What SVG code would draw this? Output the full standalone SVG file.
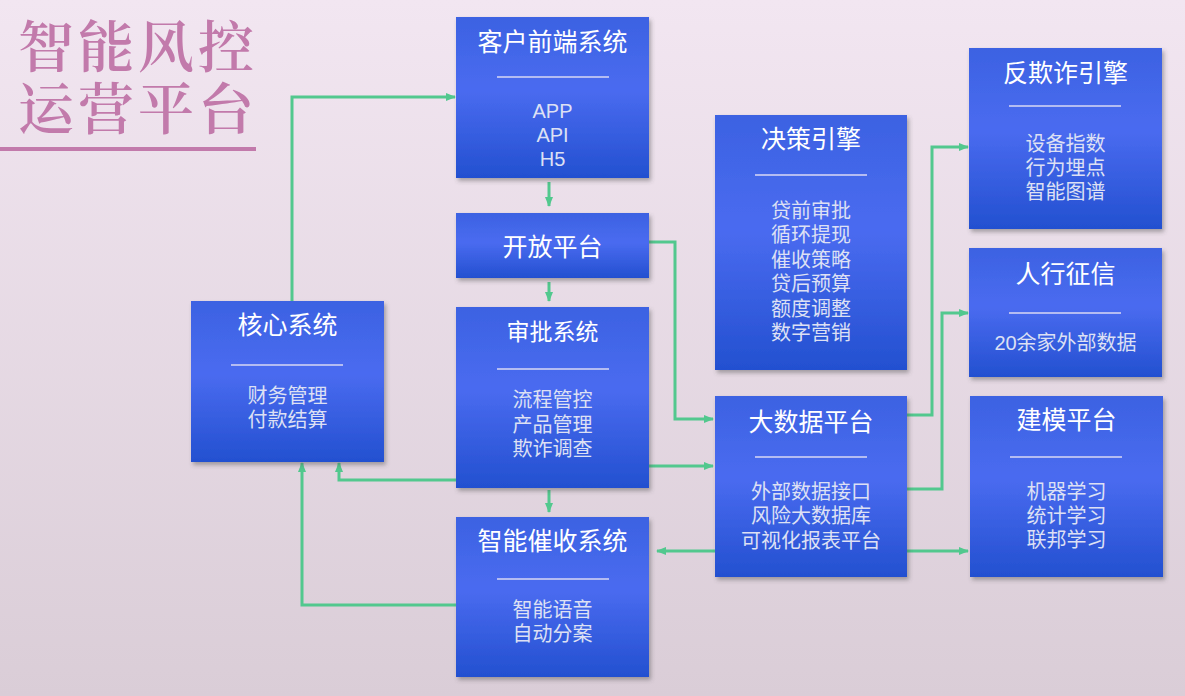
<svg xmlns="http://www.w3.org/2000/svg" width="1185" height="696" viewBox="0 0 1185 696">
<defs>
<linearGradient id="bg" x1="0" y1="0" x2="0" y2="1">
<stop offset="0" stop-color="#f2e6f1"/>
<stop offset="1" stop-color="#dacdd7"/>
</linearGradient>
<linearGradient id="box" x1="0" y1="0" x2="0" y2="1">
<stop offset="0" stop-color="#3c62e2"/>
<stop offset="0.45" stop-color="#4a6bf0"/>
<stop offset="1" stop-color="#2350d0"/>
</linearGradient>
<filter id="sh" x="-10%" y="-10%" width="130%" height="130%">
<feDropShadow dx="2" dy="3" stdDeviation="2" flood-color="#505050" flood-opacity="0.45"/>
</filter>
<marker id="ar" viewBox="0 0 10 10" refX="9" refY="5" markerWidth="10" markerHeight="10" markerUnits="userSpaceOnUse" orient="auto">
<path d="M0,1 L10,5 L0,9 Z" fill="#52c88e"/>
</marker>
<style>
.b{fill:url(#box);filter:url(#sh)}
.t{font-family:"Liberation Sans","Noto Sans CJK SC",sans-serif;font-size:25px;fill:#ffffff;text-anchor:middle}
.i{font-family:"Liberation Sans","Noto Sans CJK SC",sans-serif;font-size:20px;fill:#dde0f4;text-anchor:middle}
.s{stroke:#b4bcf2;stroke-width:2}
.c{fill:none;stroke:#52c88e;stroke-width:3;marker-end:url(#ar)}
.h{font-family:"Noto Serif CJK SC","Noto Sans CJK SC",serif;font-size:56px;letter-spacing:4px;font-weight:600;fill:#c27aab}
</style>
</defs>
<rect width="1185" height="696" fill="url(#bg)"/>
<g id="title">
<text class="h"><tspan x="18" y="67">智能风控</tspan><tspan x="18" y="129">运营平台</tspan></text>
<rect x="0" y="147" width="256" height="4" fill="#c27aab"/>
</g>
<g id="connectors">
<path class="c" d="M292,301 V97 H455"/>
<path class="c" d="M549,182 V206"/>
<path class="c" d="M549,282 V301"/>
<path class="c" d="M649,242 H675 V419 H713"/>
<path class="c" d="M649,466 H713"/>
<path class="c" d="M549,490 V512"/>
<path class="c" d="M456,480 H339 V463"/>
<path class="c" d="M456,605 H302 V463"/>
<path class="c" d="M907,415 H932 V147 H968"/>
<path class="c" d="M907,489 H942 V313 H968"/>
<path class="c" d="M907,551 H968"/>
<path class="c" d="M715,551 H657"/>
</g>
<g id="n-client">
<rect class="b" x="456" y="17" width="193" height="161"/>
<text class="t" x="552.5" y="51">客户前端系统</text>
<line class="s" x1="497" y1="77" x2="609" y2="77"/>
<text class="i" x="552.5" y="118">APP</text>
<text class="i" x="552.5" y="142">API</text>
<text class="i" x="552.5" y="166">H5</text>
</g>
<g id="n-open">
<rect class="b" x="456" y="213" width="193" height="65"/>
<text class="t" x="552.5" y="256">开放平台</text>
</g>
<g id="n-approve">
<rect class="b" x="456" y="307" width="193" height="181"/>
<text class="t" x="552.5" y="340" style="font-size:23px">审批系统</text>
<line class="s" x1="497" y1="369" x2="609" y2="369"/>
<text class="i" x="552.5" y="407">流程管控</text>
<text class="i" x="552.5" y="432">产品管理</text>
<text class="i" x="552.5" y="456">欺诈调查</text>
</g>
<g id="n-collect">
<rect class="b" x="456" y="517" width="193" height="160"/>
<text class="t" x="552.5" y="550">智能催收系统</text>
<line class="s" x1="497" y1="579" x2="609" y2="579"/>
<text class="i" x="552.5" y="617">智能语音</text>
<text class="i" x="552.5" y="641">自动分案</text>
</g>
<g id="n-core">
<rect class="b" x="191" y="301" width="193" height="161"/>
<text class="t" x="287.5" y="334">核心系统</text>
<line class="s" x1="231" y1="365" x2="343" y2="365"/>
<text class="i" x="287.5" y="403">财务管理</text>
<text class="i" x="287.5" y="427">付款结算</text>
</g>
<g id="n-decision">
<rect class="b" x="715" y="115" width="192" height="255"/>
<text class="t" x="811" y="148">决策引擎</text>
<line class="s" x1="755" y1="175" x2="867" y2="175"/>
<text class="i" x="811" y="218">贷前审批</text>
<text class="i" x="811" y="242">循环提现</text>
<text class="i" x="811" y="267">催收策略</text>
<text class="i" x="811" y="291">贷后预算</text>
<text class="i" x="811" y="316">额度调整</text>
<text class="i" x="811" y="340">数字营销</text>
</g>
<g id="n-bigdata">
<rect class="b" x="715" y="396" width="192" height="181"/>
<text class="t" x="811" y="431">大数据平台</text>
<line class="s" x1="755" y1="457" x2="867" y2="457"/>
<text class="i" x="811" y="499">外部数据接口</text>
<text class="i" x="811" y="523">风险大数据库</text>
<text class="i" x="811" y="548">可视化报表平台</text>
</g>
<g id="n-antifraud">
<rect class="b" x="969" y="48" width="193" height="181"/>
<text class="t" x="1065.5" y="82">反欺诈引擎</text>
<line class="s" x1="1009" y1="106" x2="1121" y2="106"/>
<text class="i" x="1065.5" y="151">设备指数</text>
<text class="i" x="1065.5" y="175">行为埋点</text>
<text class="i" x="1065.5" y="199">智能图谱</text>
</g>
<g id="n-credit">
<rect class="b" x="969" y="248" width="193" height="129"/>
<text class="t" x="1065.5" y="283">人行征信</text>
<line class="s" x1="1009" y1="313" x2="1121" y2="313"/>
<text class="i" x="1065.5" y="350">20余家外部数据</text>
</g>
<g id="n-model">
<rect class="b" x="970" y="396" width="193" height="181"/>
<text class="t" x="1066.5" y="429">建模平台</text>
<line class="s" x1="1010" y1="457" x2="1122" y2="457"/>
<text class="i" x="1066.5" y="499">机器学习</text>
<text class="i" x="1066.5" y="523">统计学习</text>
<text class="i" x="1066.5" y="547">联邦学习</text>
</g>
</svg>
